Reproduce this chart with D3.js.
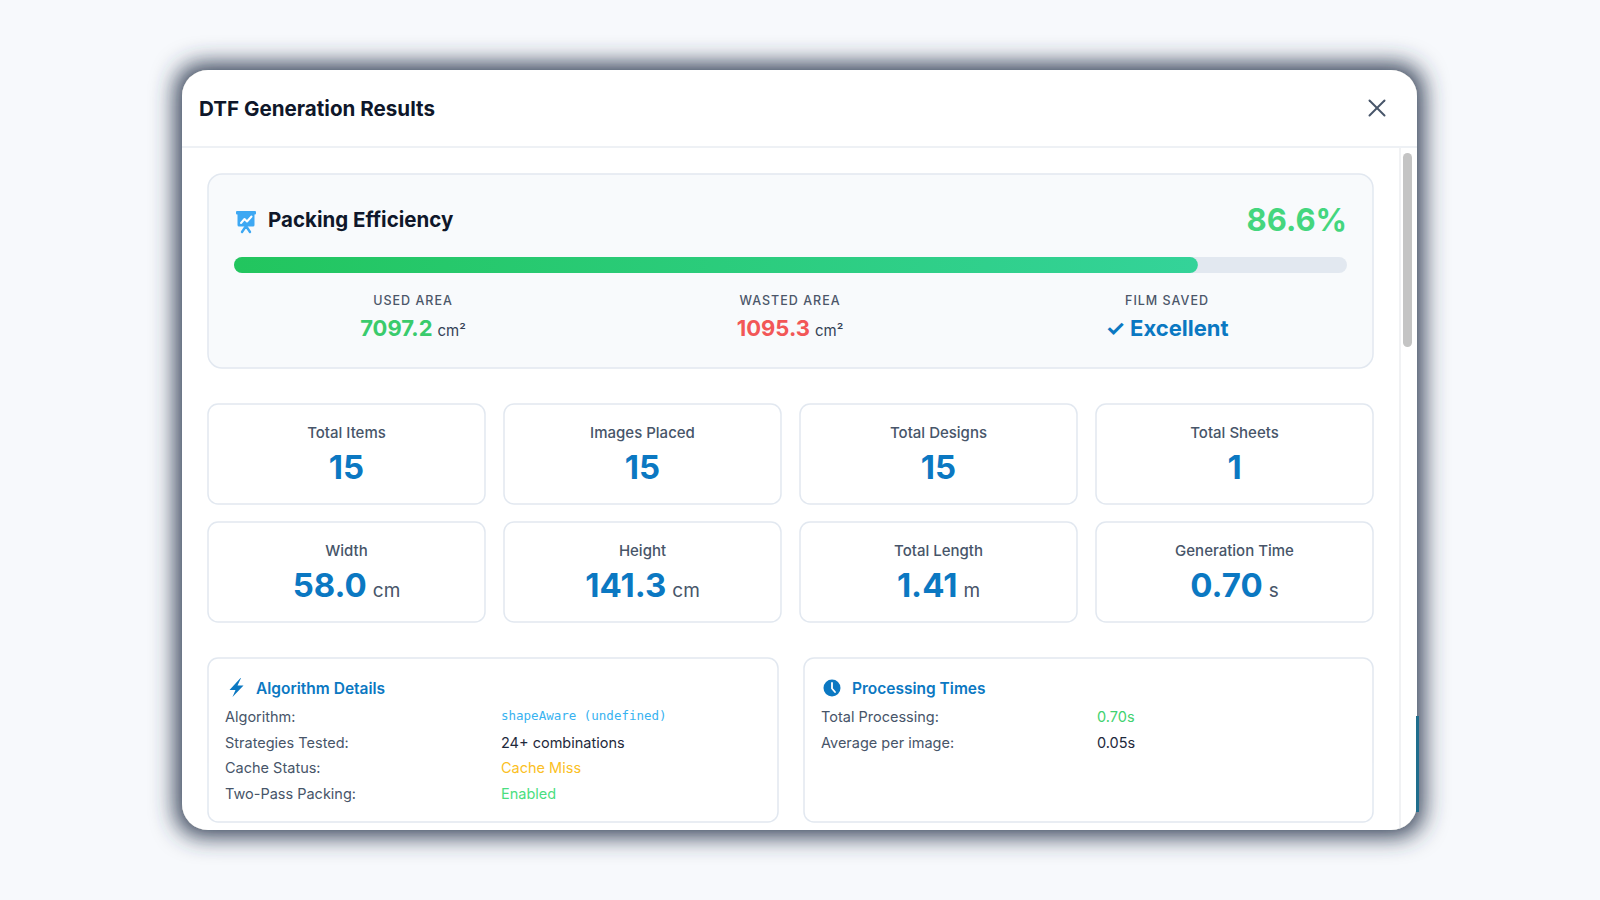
<!DOCTYPE html>
<html>
<head>
<meta charset="utf-8">
<script src="https://cdn.jsdelivr.net/npm/d3@7"></script>
<style>
  html, body { margin: 0; padding: 0; background: #f7f9fc; }
  svg { display: block; font-family: Inter, 'Noto Sans', sans-serif; }
</style>
</head>
<body>
<script>
// values
const TITLE = 'DTF Generation Results'
const EFFICIENCY = 86.6

const areaLabels = ['USED AREA', 'WASTED AREA', 'FILM SAVED']
const areaValues = ['7097.2', '1095.3', '✓ Excellent']
const areaUnits = ['cm²', 'cm²', '']
const areaColors = ['#3acb6c', '#f25757', '#0b78c2']

const statLabels = ['Total Items', 'Images Placed', 'Total Designs', 'Total Sheets',
  'Width', 'Height', 'Total Length', 'Generation Time']
const statValues = ['15', '15', '15', '1', '58.0', '141.3', '1.41', '0.70']
const statUnits = ['', '', '', '', 'cm', 'cm', 'm', 's']

const algoLabels = ['Algorithm:', 'Strategies Tested:', 'Cache Status:', 'Two-Pass Packing:']
const algoValues = ['shapeAware (undefined)', '24+ combinations', 'Cache Miss', 'Enabled']
const algoColors = ['#38b2f0', '#1e293b', '#fbbf24', '#4ade80']

const procLabels = ['Total Processing:', 'Average per image:']
const procValues = ['0.70s', '0.05s']
const procColors = ['#3fd26f', '#1e293b']

const W = 1600
const H = 900
const BLUE = '#0b78c2'
const BORDER = '#e2e8f0'

const svg = d3.select('body')
  .append('svg')
  .attr('width', W)
  .attr('height', H)

const defs = svg.append('defs')

const shadow = defs.append('filter')
  .attr('id', 'shadow')
  .attr('x', '-10%').attr('y', '-15%')
  .attr('width', '120%').attr('height', '130%')
shadow.append('feMorphology').attr('in', 'SourceAlpha').attr('operator', 'dilate').attr('radius', 6).attr('result', 'fat')
shadow.append('feGaussianBlur').attr('in', 'fat').attr('stdDeviation', 12).attr('result', 'blur')
shadow.append('feFlood').attr('flood-color', '#2c3950').attr('flood-opacity', 1)
shadow.append('feComposite').attr('in2', 'blur').attr('operator', 'in').attr('result', 'sh')
const merge = shadow.append('feMerge')
merge.append('feMergeNode').attr('in', 'sh')
merge.append('feMergeNode').attr('in', 'SourceGraphic')

const grad = defs.append('linearGradient').attr('id', 'barFill')
grad.append('stop').attr('offset', '0%').attr('stop-color', '#22c55e')
grad.append('stop').attr('offset', '100%').attr('stop-color', '#34d399')

const modal = { x: 182, y: 70, w: 1235, h: 760, r: 26 }

defs.append('clipPath').attr('id', 'modalClip')
  .append('rect')
  .attr('x', modal.x).attr('y', modal.y)
  .attr('width', modal.w).attr('height', modal.h)
  .attr('rx', modal.r)

svg.append('rect')
  .attr('x', modal.x).attr('y', modal.y)
  .attr('width', modal.w).attr('height', modal.h)
  .attr('rx', modal.r)
  .attr('fill', '#fff')
  .attr('filter', 'url(#shadow)')

// something dark peeking out behind the modal
svg.append('rect')
  .attr('x', modal.x + modal.w - 1).attr('y', 716)
  .attr('width', 3).attr('height', 96)
  .attr('fill', '#1f6d8c')

const g = svg.append('g').attr('clip-path', 'url(#modalClip)')

// header
g.append('text')
  .attr('x', 199).attr('y', 116)
  .attr('font-size', 20.6).attr('font-weight', 700)
  .attr('fill', '#0f172a')
  .text(TITLE)

g.append('line')
  .attr('x1', modal.x).attr('x2', modal.x + modal.w)
  .attr('y1', 147).attr('y2', 147)
  .attr('stroke', '#e9edf2').attr('stroke-width', 1.5)

const close = g.append('g').attr('transform', 'translate(1377,108)')
  .attr('stroke', '#475569').attr('stroke-width', 2).attr('stroke-linecap', 'round')
close.append('line').attr('x1', -7.5).attr('y1', -7.5).attr('x2', 7.5).attr('y2', 7.5)
close.append('line').attr('x1', 7.5).attr('y1', -7.5).attr('x2', -7.5).attr('y2', 7.5)

// scroll track
g.append('line')
  .attr('x1', 1400).attr('x2', 1400).attr('y1', 148).attr('y2', modal.y + modal.h)
  .attr('stroke', '#eceef1').attr('stroke-width', 1.5)
g.append('rect')
  .attr('x', 1403).attr('y', 153).attr('width', 9).attr('height', 194)
  .attr('rx', 4.5).attr('fill', '#c4c4c4')

// efficiency card
g.append('rect')
  .attr('x', 208).attr('y', 174).attr('width', 1165).attr('height', 194)
  .attr('rx', 14).attr('fill', '#f8fafc')
  .attr('stroke', BORDER).attr('stroke-width', 1.5)

const icon = g.append('g').attr('fill', '#3ea8f3')
icon.append('rect').attr('x', 236).attr('y', 211).attr('width', 20).attr('height', 3.5).attr('rx', 1)
icon.append('rect').attr('x', 237.5).attr('y', 213).attr('width', 17).attr('height', 13.5).attr('rx', 1.5)
icon.append('polyline')
  .attr('points', '241,223 244.5,219 247,221.5 251.5,216.5')
  .attr('fill', 'none').attr('stroke', '#fff').attr('stroke-width', 2)
  .attr('stroke-linejoin', 'round').attr('stroke-linecap', 'round')
icon.append('path')
  .attr('d', 'M246,226 L242,232 M246,226 L250,232')
  .attr('stroke', '#3ea8f3').attr('stroke-width', 2.4).attr('stroke-linecap', 'round')

g.append('text')
  .attr('x', 268).attr('y', 227)
  .attr('font-size', 20.5).attr('font-weight', 700)
  .attr('fill', '#0f172a')
  .text('Packing Efficiency')

g.append('text')
  .attr('x', 1347).attr('y', 231)
  .attr('text-anchor', 'end')
  .attr('font-size', 31).attr('font-weight', 700)
  .attr('fill', '#44d67e')
  .text(EFFICIENCY.toFixed(1) + '%')

const xBar = d3.scaleLinear().domain([0, 100]).range([234, 1347])

g.append('rect')
  .attr('x', xBar(0)).attr('y', 257)
  .attr('width', xBar(100) - xBar(0)).attr('height', 16)
  .attr('rx', 8).attr('fill', BORDER)

g.append('rect')
  .attr('x', xBar(0)).attr('y', 257)
  .attr('width', xBar(EFFICIENCY) - xBar(0)).attr('height', 16)
  .attr('rx', 8).attr('fill', 'url(#barFill)')

const xArea = d3.scaleBand().domain(areaLabels).range([224.5, 1355.5])

const areas = g.selectAll('g.area')
  .data(areaLabels)
  .enter()
  .append('g')
  .attr('class', 'area')
  .attr('transform', d => `translate(${xArea(d) + xArea.bandwidth() / 2},0)`)

areas.append('text')
  .attr('y', 305)
  .attr('text-anchor', 'middle')
  .attr('font-size', 12.5).attr('font-weight', 500)
  .attr('letter-spacing', 1)
  .attr('fill', '#4b5669')
  .text(d => d)

const areaVal = areas.append('text')
  .attr('y', 336)
  .attr('text-anchor', 'middle')
areaVal.append('tspan')
  .attr('font-size', 22).attr('font-weight', 700)
  .attr('fill', (d, i) => areaColors[i])
  .text((d, i) => areaValues[i])
areaVal.append('tspan')
  .attr('dx', 5)
  .attr('font-size', 15).attr('font-weight', 400)
  .attr('fill', '#334155')
  .text((d, i) => areaUnits[i])

// stat cards
const xStat = d3.scaleBand().domain(d3.range(4)).range([208, 1373]).paddingInner(0.0642)
const rowY = [404, 522]

const cards = g.selectAll('g.stat')
  .data(statLabels)
  .enter()
  .append('g')
  .attr('class', 'stat')
  .attr('transform', (d, i) => `translate(${xStat(i % 4)},${rowY[Math.floor(i / 4)]})`)

cards.append('rect')
  .attr('width', xStat.bandwidth()).attr('height', 100)
  .attr('rx', 10).attr('fill', '#fff')
  .attr('stroke', BORDER).attr('stroke-width', 1.5)

cards.append('text')
  .attr('x', xStat.bandwidth() / 2).attr('y', 34)
  .attr('text-anchor', 'middle')
  .attr('font-size', 15).attr('font-weight', 500)
  .attr('fill', '#475569')
  .text(d => d)

const statVal = cards.append('text')
  .attr('x', xStat.bandwidth() / 2).attr('y', 75)
  .attr('text-anchor', 'middle')
statVal.append('tspan')
  .attr('font-size', 33).attr('font-weight', 700)
  .attr('fill', BLUE)
  .text((d, i) => statValues[i])
statVal.append('tspan')
  .attr('dx', (d, i) => statUnits[i] ? 6 : 0)
  .attr('font-size', 19).attr('font-weight', 400)
  .attr('fill', '#475569')
  .text((d, i) => statUnits[i])

// detail panels
const panels = [
  { x: 208, w: 570, title: 'Algorithm Details', labels: algoLabels, values: algoValues, colors: algoColors },
  { x: 804, w: 569, title: 'Processing Times', labels: procLabels, values: procValues, colors: procColors }
]
const rowScale = d3.scaleLinear().domain([0, 3]).range([722, 799])

const panel = g.selectAll('g.panel')
  .data(panels)
  .enter()
  .append('g')
  .attr('class', 'panel')
  .attr('transform', d => `translate(${d.x},0)`)

panel.append('rect')
  .attr('y', 658).attr('width', d => d.w).attr('height', 164)
  .attr('rx', 10).attr('fill', '#fff')
  .attr('stroke', BORDER).attr('stroke-width', 1.5)

panel.append('text')
  .attr('x', 48).attr('y', 694)
  .attr('font-size', 15.5).attr('font-weight', 600)
  .attr('fill', BLUE)
  .text(d => d.title)

// bolt
panel.filter((d, i) => i === 0).append('path')
  .attr('d', 'M32.5,678 L21.5,690 L27.5,690 L24.5,697 L35.5,685.5 L29.5,685.5 L33,678 Z')
  .attr('fill', BLUE)

// clock
const clock = panel.filter((d, i) => i === 1).append('g').attr('transform', 'translate(28,688)')
clock.append('circle').attr('r', 8.5).attr('fill', BLUE)
clock.append('path')
  .attr('d', 'M0,-5 L0,0.5 L3,4')
  .attr('fill', 'none').attr('stroke', '#fff').attr('stroke-width', 1.8)
  .attr('stroke-linecap', 'round').attr('stroke-linejoin', 'round')

panel.selectAll('text.lbl')
  .data(d => d.labels)
  .enter()
  .append('text')
  .attr('class', 'lbl')
  .attr('x', 17).attr('y', (d, i) => rowScale(i))
  .attr('font-size', 14.5)
  .attr('fill', '#475569')
  .text(d => d)

panel.selectAll('text.val')
  .data(d => d.values.map((v, i) => ({ v, c: d.colors[i], mono: v.startsWith('shapeAware') })))
  .enter()
  .append('text')
  .attr('class', 'val')
  .attr('x', 293).attr('y', (d, i) => rowScale(i) - (d.mono ? 2 : 0))
  .attr('font-size', d => d.mono ? 12.5 : 14.5)
  .attr('font-family', d => d.mono ? "'DejaVu Sans Mono', monospace" : null)
  .attr('fill', d => d.c)
  .text(d => d.v)
</script>
</body>
</html>
